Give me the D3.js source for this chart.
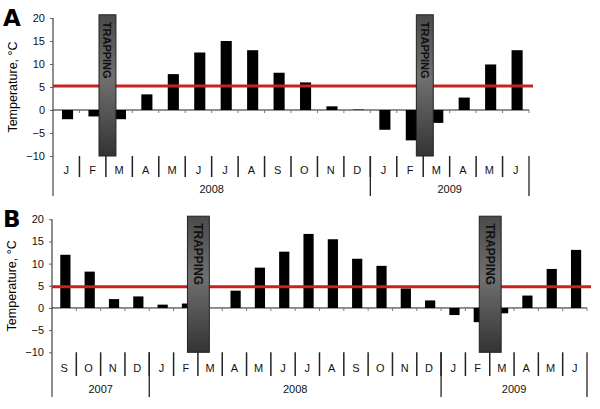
<!DOCTYPE html>
<html><head><meta charset="utf-8">
<script src="https://cdn.jsdelivr.net/npm/d3@7"></script>
<style>body{margin:0;background:#fff}svg{display:block}</style>
</head><body>
<script>
// ---- data ----
const monthsA = ["J","F","M","A","M","J","J","A","S","O","N","D","J","F","M","A","M","J"];
const valuesA = [-2.0,-1.4,-2.0,3.4,7.8,12.5,15.0,13.0,8.1,6.0,0.8,0.1,-4.3,-6.6,-2.8,2.7,9.9,13.0];
const yearsA = [{label:"2008", from:0, to:12},{label:"2009", from:12, to:18}];
const trapA = [2, 14];           // trapping starts at month index (boundary F/M)
const thresholdA = 5.2;

const monthsB = ["S","O","N","D","J","F","M","A","M","J","J","A","S","O","N","D","J","F","M","A","M","J"];
const valuesB = [12.0,8.2,2.0,2.6,0.75,1.0,0,3.9,9.1,12.7,16.7,15.5,11.1,9.5,4.4,1.7,-1.6,-3.2,-1.2,2.8,8.8,13.1];
const yearsB = [{label:"2007", from:0, to:4},{label:"2008", from:4, to:16},{label:"2009", from:16, to:22}];
const trapB = [6, 18];
const thresholdB = 4.8;

const yTicks = [-10,-5,0,5,10,15,20];

const W = 600, H = 409;
const svg = d3.select("body").append("svg").attr("width", W).attr("height", H);
const defs = svg.append("defs");
const grad = defs.append("linearGradient").attr("id","trapGrad").attr("x1",0).attr("y1",0).attr("x2",0).attr("y2",1);
grad.append("stop").attr("offset","0%").attr("stop-color","#4a4a4a");
grad.append("stop").attr("offset","45%").attr("stop-color","#707070");
grad.append("stop").attr("offset","100%").attr("stop-color","#333333");

const font = "'Liberation Sans', Arial, sans-serif";

function drawPanel(cfg) {
  const g = svg.append("g");
  const x = d3.scaleBand().domain(d3.range(cfg.months.length)).range([cfg.x0, cfg.x1]);
  const y = d3.scaleLinear().domain([-10, 20]).range([cfg.yb, cfg.yt]);
  const bw = x.bandwidth();

  // panel letter
  g.append("text").attr("x", 3).attr("y", cfg.yt + 8)
    .attr("font-family", "'DejaVu Sans', Arial, sans-serif").attr("font-weight", 900)
    .attr("font-size", 23).text(cfg.letter);

  // y axis
  const ax = g.append("g").attr("transform", `translate(${cfg.x0},0)`)
    .call(d3.axisLeft(y).tickValues(yTicks).tickSize(3).tickPadding(5));
  ax.select(".domain").remove();
  ax.selectAll(".tick line").attr("stroke", "#666");
  ax.selectAll("text").attr("font-family", font).attr("font-size", 11).attr("fill", "#111");
  g.append("line").attr("x1", cfg.x0).attr("x2", cfg.x0)
    .attr("y1", y(20)).attr("y2", cfg.yearBottom).attr("stroke", "#444").attr("stroke-width", 1.2);

  // y label
  g.append("text").attr("transform", `translate(${cfg.x0 - 36},${(y(20) + y(-10)) / 2}) rotate(-90)`)
    .attr("text-anchor", "middle").attr("font-family", font).attr("font-size", 12.5)
    .text("Temperature, °C");

  // zero line with small ticks
  g.append("line").attr("x1", cfg.x0).attr("x2", cfg.x1).attr("y1", y(0)).attr("y2", y(0))
    .attr("stroke", "#222").attr("stroke-width", 1);
  g.selectAll(".zt").data(d3.range(1, cfg.months.length + 1)).enter().append("line")
    .attr("x1", i => cfg.x0 + i * bw).attr("x2", i => cfg.x0 + i * bw)
    .attr("y1", y(0)).attr("y2", y(0) + 3).attr("stroke", "#777");

  // bars
  const barW = bw * 0.42;
  g.selectAll(".bar").data(cfg.values).enter().append("rect")
    .attr("x", (d, i) => x(i) + bw * 0.55 - barW / 2)
    .attr("width", barW)
    .attr("y", d => y(Math.max(0, d)))
    .attr("height", d => Math.abs(y(d) - y(0)))
    .attr("fill", "#000");

  // red threshold line
  g.append("line").attr("x1", cfg.x0).attr("x2", cfg.x1 + 4)
    .attr("y1", y(cfg.threshold)).attr("y2", y(cfg.threshold))
    .attr("stroke", "#c8221f").attr("stroke-width", 3);

  // trapping rectangles
  cfg.trap.forEach(m => {
    const tw = bw * cfg.trapFrac;
    const cx = x(m) + cfg.trapShift * bw;
    g.append("rect").attr("x", cx - tw / 2).attr("width", tw)
      .attr("y", y(20.7)).attr("height", y(-10) - y(20.7))
      .attr("fill", "url(#trapGrad)").attr("stroke", "#222").attr("stroke-width", 1);
    g.append("text").attr("transform", `translate(${cx - 4},${y(20.7) + 7}) rotate(90)`)
      .attr("font-family", font).attr("font-weight", "bold").attr("font-size", cfg.trapFont)
      .attr("fill", "#111").text("TRAPPING");
  });

  // month labels and separators
  g.selectAll(".ml").data(cfg.months).enter().append("text")
    .attr("x", (d, i) => x(i) + bw / 2).attr("y", cfg.monthY)
    .attr("text-anchor", "middle").attr("font-family", font).attr("font-size", 11)
    .attr("fill", "#111").text(d => d);
  g.selectAll(".ms").data(d3.range(1, cfg.months.length)).enter().append("line")
    .attr("x1", i => x(i)).attr("x2", i => x(i))
    .attr("y1", y(-10)).attr("y2", cfg.monthBottom)
    .attr("stroke", "#222").attr("stroke-width", 1.5);

  // years
  cfg.years.forEach(yr => {
    const xa = yr.from === 0 ? cfg.x0 : x(yr.from);
    const xb = yr.to === cfg.months.length ? cfg.x1 : x(yr.to);
    g.append("text").attr("x", (xa + xb) / 2).attr("y", cfg.yearY)
      .attr("text-anchor", "middle").attr("font-family", font).attr("font-size", 11)
      .attr("fill", "#111").text(yr.label);
    if (yr.to !== undefined) {
      g.append("line").attr("x1", xb).attr("x2", xb)
        .attr("y1", y(-10)).attr("y2", cfg.yearBottom)
        .attr("stroke", "#222").attr("stroke-width", 1.3);
    }
  });
}

drawPanel({letter:"A", months:monthsA, values:valuesA, years:yearsA, trap:trapA, threshold:thresholdA,
  x0:53, x1:529, yt:18, yb:156, monthY:174, monthBottom:177, yearY:193, yearBottom:196,
  trapFrac:0.64, trapShift:0.06, trapFont:11});
drawPanel({letter:"B", months:monthsB, values:valuesB, years:yearsB, trap:trapB, threshold:thresholdB,
  x0:52, x1:587, yt:219.3, yb:352.3, monthY:372, monthBottom:376, yearY:393, yearBottom:397,
  trapFrac:0.9, trapShift:0.02, trapFont:12});
</script>
</body></html>
